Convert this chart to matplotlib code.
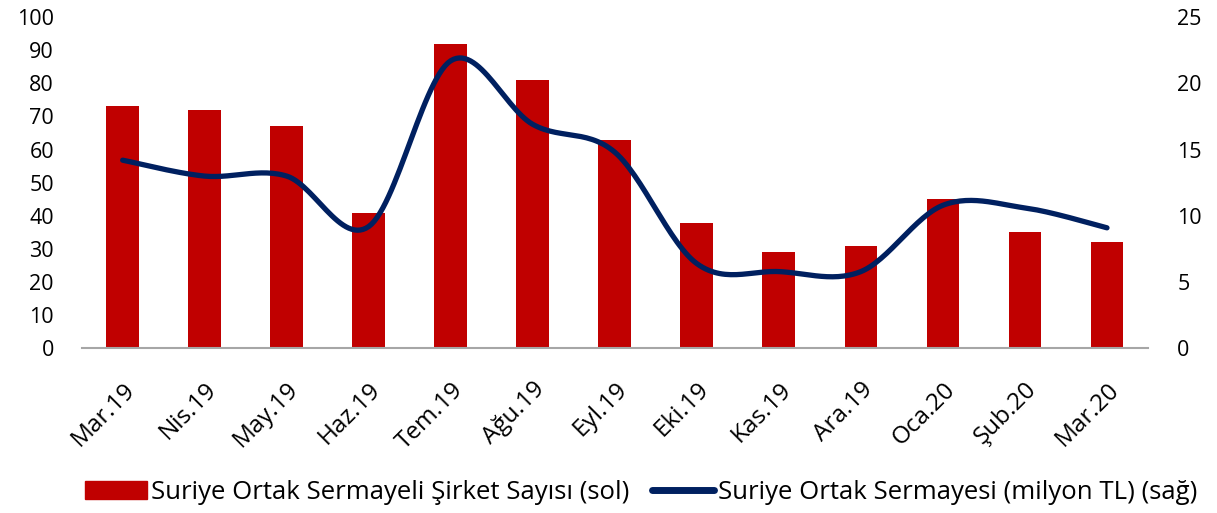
import numpy as np
import matplotlib
matplotlib.use("Agg")
from matplotlib import pyplot as plt
from matplotlib.lines import Line2D
from matplotlib.patches import Patch

plt.rcParams['font.family'] = ['Open Sans', 'DejaVu Sans']

months = ["Mar.19", "Nis.19", "May.19", "Haz.19", "Tem.19", "Ağu.19", "Eyl.19",
          "Eki.19", "Kas.19", "Ara.19", "Oca.20", "Şub.20", "Mar.20"]
sirket_sayisi = [73, 72, 67, 41, 92, 81, 63, 38, 29, 31, 45, 35, 32]
sermaye = [14.2, 13.0, 13.0, 9.2, 21.7, 16.9, 14.8, 6.4, 5.8, 5.8, 10.8, 10.6, 9.1]

bar_color = '#C00000'
line_color = '#002060'


def smooth(xs, ys, n=30):
    # catmull-rom style curve through the points, like excel's smoothed line
    xs = np.asarray(xs, float)
    ys = np.asarray(ys, float)
    px = np.concatenate([[xs[0]], xs, [xs[-1]]])
    py = np.concatenate([[ys[0]], ys, [ys[-1]]])
    outx, outy = [], []
    t = np.linspace(0, 1, n)
    for k in range(1, len(px) - 2):
        x0, x1, x2, x3 = px[k-1:k+3]
        y0, y1, y2, y3 = py[k-1:k+3]
        cx1, cy1 = x1 + (x2 - x0) / 6, y1 + (y2 - y0) / 6
        cx2, cy2 = x2 - (x3 - x1) / 6, y2 - (y3 - y1) / 6
        b0 = (1 - t) ** 3
        b1 = 3 * (1 - t) ** 2 * t
        b2 = 3 * (1 - t) * t ** 2
        b3 = t ** 3
        outx.append(b0 * x1 + b1 * cx1 + b2 * cx2 + b3 * x2)
        outy.append(b0 * y1 + b1 * cy1 + b2 * cy2 + b3 * y2)
    return np.concatenate(outx), np.concatenate(outy)


fig = plt.figure(figsize=(12.17, 5.13), dpi=100)
ax = fig.add_axes([0.0671, 0.3207, 0.8762, 0.6462])
x = np.arange(len(months))
ax.bar(x, sirket_sayisi, width=0.4, color=bar_color, zorder=2)
ax.set_xlim(-0.5, len(months) - 0.5)
ax.set_ylim(0, 100)
ax.set_yticks(range(0, 101, 10))
ax.set_xticks(x)
ax.set_xticklabels(months, rotation=45, ha='right', rotation_mode='anchor')
for s in ['top', 'left', 'right']:
    ax.spines[s].set_visible(False)
ax.spines['bottom'].set_color('#A6A6A6')
ax.spines['bottom'].set_linewidth(1.5)
ax.tick_params(axis='y', length=0, labelsize=15.5, pad=20)
ax.tick_params(axis='x', length=0, labelsize=17.5, pad=21)

ax2 = ax.twinx()
sx, sy = smooth(x, sermaye)
ax2.plot(sx, sy, color=line_color, linewidth=3.8, solid_capstyle='round', zorder=3)
ax2.set_ylim(0, 25)
ax2.set_yticks(range(0, 26, 5))
for s in ['top', 'left', 'right', 'bottom']:
    ax2.spines[s].set_visible(False)
ax2.tick_params(axis='y', length=0, labelsize=15.5, pad=21)

handles = [Patch(color=bar_color),
           Line2D([0], [0], color=line_color, linewidth=5, solid_capstyle='round')]
labels = ["Suriye Ortak Sermayeli Şirket Sayısı (sol)",
          "Suriye Ortak Sermayesi (milyon TL) (sağ)"]
fig.legend(handles, labels, loc='center', bbox_to_anchor=(0.527, 0.04), ncol=2,
           frameon=False, fontsize=18.5, handlelength=2.4, handleheight=0.7,
           handletextpad=0.15, columnspacing=0.9)

fig.savefig('out.png', dpi=100)
